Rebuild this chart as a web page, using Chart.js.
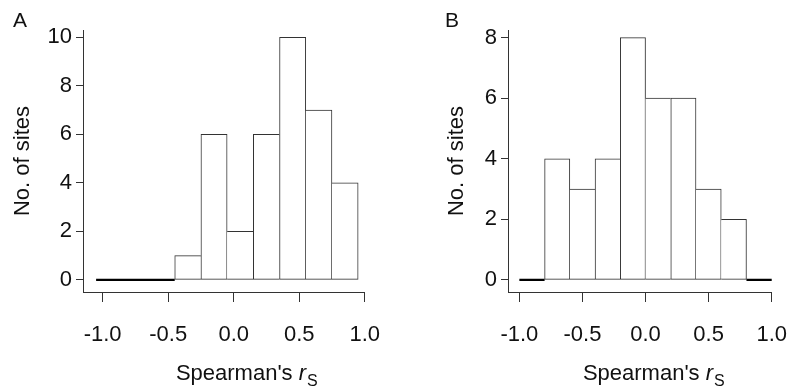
<!DOCTYPE html>
<html>
<head>
<meta charset="utf-8">
<script src="https://cdn.jsdelivr.net/npm/chart.js@4/dist/chart.umd.min.js"></script>
<style>
  html, body { margin: 0; padding: 0; background: #fff; }
  #wrap { position: relative; width: 807px; height: 390px; overflow: hidden; }
  .panel { position: absolute; top: 0; }
</style>
</head>
<body>
<div id="wrap">
  <div class="panel" style="left:0px"><canvas id="cA" width="400" height="390"></canvas></div>
  <div class="panel" style="left:400px"><canvas id="cB" width="407" height="390"></canvas></div>
</div>
<script>
// ---- data ----
const binStartsA = [-1.05, -0.85, -0.65, -0.45, -0.25, -0.05, 0.15, 0.35, 0.55, 0.75];
const countsA    = [0, 0, 0, 1, 6, 2, 6, 10, 7, 4];
const binStartsB = [-1.0, -0.8, -0.6, -0.4, -0.2, 0.0, 0.2, 0.4, 0.6, 0.8];
const countsB    = [0, 4, 3, 4, 8, 6, 6, 3, 2, 0];
const binWidth = 0.2;
const xTicks  = [-1.0, -0.5, 0.0, 0.5, 1.0];
const yTicksA = [0, 2, 4, 6, 8, 10];
const yTicksB = [0, 2, 4, 6, 8];
const panelLabels = ['A', 'B'];
const xTitle = ["Spearman's ", 'r', 'S'];
const yTitle = 'No. of sites';

const FONT = "'Liberation Sans', Arial, sans-serif";
const AXIS = '#333333';
const FS = 22;

function barData(starts, counts) {
  const out = [];
  starts.forEach((s, i) => { if (counts[i] > 0) out.push({ x: +(s + binWidth / 2).toFixed(3), y: counts[i], i }); });
  return out;
}
function zeroData(starts, counts) {
  const out = [];
  let prev = false;
  starts.forEach((s, i) => {
    if (counts[i] === 0) {
      if (!prev) out.push({ x: s, y: 0 });
      out.push({ x: +(s + binWidth).toFixed(3), y: 0 });
      prev = true;
    } else {
      if (prev) out.push({ x: s + 0.001, y: null });
      prev = false;
    }
  });
  return out;
}
function borderFor(counts) {
  return (ctx) => {
    const r = ctx.raw; if (!r) return 1;
    const i = r.i, c = counts[i];
    const left = (i > 0 && counts[i - 1] > c) ? 0 : 1;
    const right = (i < counts.length - 1 && counts[i + 1] >= c) ? 0 : 1;
    return { top: 1, bottom: 1, left, right };
  };
}

const textPlugin = {
  id: 'textPlugin',
  afterDraw(chart, args, opts) {
    const ctx = chart.ctx;
    const ca = chart.chartArea;
    ctx.save();
    ctx.fillStyle = '#111';
    ctx.textBaseline = 'alphabetic';
    ctx.textAlign = 'left';
    // panel letter
    ctx.font = '21px ' + FONT;
    ctx.fillText(opts.letter, opts.letterX, 27);
    // x title with italic r and subscript S (right end ~47px left of axis end)
    ctx.font = FS + 'px ' + FONT;
    const w0 = ctx.measureText(xTitle[0]).width;
    ctx.font = 'italic ' + FS + 'px ' + FONT;
    const w1 = ctx.measureText(xTitle[1]).width;
    ctx.font = '16px ' + FONT;
    const w2 = ctx.measureText(xTitle[2]).width;
    let x = ca.right - 47 - (w0 + w1 + 1 + w2);
    const y = 380;
    ctx.font = FS + 'px ' + FONT;
    ctx.fillText(xTitle[0], x, y);
    x += w0;
    ctx.font = 'italic ' + FS + 'px ' + FONT;
    ctx.fillText(xTitle[1], x, y);
    x += w1 + 1;
    ctx.font = '16px ' + FONT;
    ctx.fillText(xTitle[2], x, y + 6);
    ctx.restore();
  }
};

function makeChart(id, starts, counts, yTicks, opt) {
  return new Chart(document.getElementById(id), {
    type: 'bar',
    data: {
      datasets: [
        {
          type: 'line',
          data: zeroData(starts, counts),
          borderColor: '#000',
          borderWidth: 2.4,
          pointRadius: 0,
          spanGaps: false,
          order: 0,
          clip: false
        },
        {
          type: 'bar',
          data: barData(starts, counts),
          backgroundColor: '#fff',
          borderColor: AXIS,
          borderWidth: borderFor(counts),
          borderSkipped: false,
          barPercentage: 1.0,
          categoryPercentage: 1.0,
          order: 1
        }
      ]
    },
    options: {
      responsive: false,
      animation: false,
      devicePixelRatio: 1,
      layout: { padding: { left: 0, top: 30, right: opt.padRight, bottom: 0 } },
      plugins: {
        legend: { display: false },
        tooltip: { enabled: false },
        textPlugin: { letter: opt.letter, letterX: opt.letterX }
      },
      scales: {
        x: {
          type: 'linear',
          min: opt.xmin, max: 1.0,
          offset: false,
          afterBuildTicks: (s) => { s.ticks = xTicks.map(v => ({ value: v })); },
          afterFit: (s) => { s.height = 98; },
          ticks: {
            color: '#111',
            font: { family: FONT, size: FS },
            padding: 20,
            maxRotation: 0,
            autoSkip: false,
            callback: (v) => (+v).toFixed(1)
          },
          grid: { display: true, drawOnChartArea: false, drawTicks: true, tickLength: 10, color: AXIS, lineWidth: 1, offset: false },
          border: { display: true, color: AXIS, width: 1 }
        },
        y: {
          type: 'linear',
          min: opt.ymin, max: opt.ymax,
          afterBuildTicks: (s) => { s.ticks = yTicks.map(v => ({ value: v })); },
          afterFit: (s) => { s.width = opt.yWidth; },
          ticks: {
            color: '#111',
            font: { family: FONT, size: FS },
            padding: 4,
            autoSkip: false,
            callback: (v) => String(v)
          },
          title: {
            display: true,
            text: yTitle,
            color: '#111',
            font: { family: FONT, size: FS },
            padding: { top: opt.titlePad, bottom: 0 }
          },
          grid: { display: true, drawOnChartArea: false, drawTicks: true, tickLength: 7, color: AXIS, lineWidth: 1 },
          border: { display: true, color: AXIS, width: 1 }
        }
      }
    },
    plugins: [textPlugin]
  });
}

makeChart('cA', binStartsA, countsA, yTicksA,
  { letter: panelLabels[0], letterX: 13, padRight: 28, yWidth: 83, xmin: -1.15, ymin: -0.5, ymax: 10.3, titlePad: 10 });
makeChart('cB', binStartsB, countsB, yTicksB,
  { letter: panelLabels[1], letterX: 45, padRight: 18, yWidth: 108, xmin: -1.09, ymin: -0.4, ymax: 8.25, titlePad: 44 });
</script>
</body>
</html>
